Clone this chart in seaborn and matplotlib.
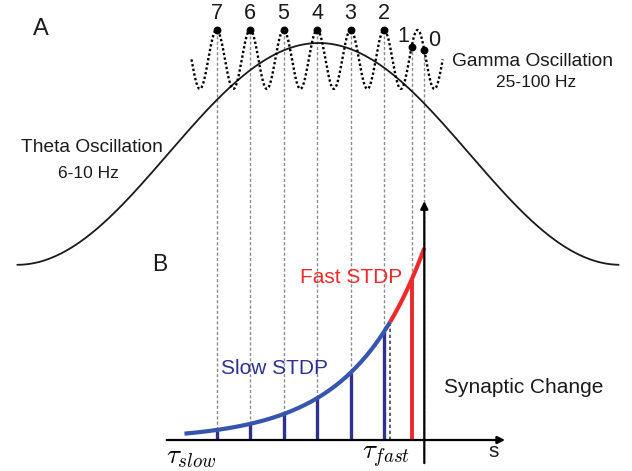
import numpy as np
import pandas as pd
import matplotlib
matplotlib.use("Agg")
import matplotlib.pyplot as plt
import seaborn as sns

# Spike order within one theta cycle, and spike times in gamma cycles relative to spike 0
spike_labels = ["7", "6", "5", "4", "3", "2", "1", "0"]
spike_times = [-6.2, -5.2, -4.2, -3.2, -2.2, -1.2, -0.38, 0.0]

# Theta oscillation (slow carrier)
theta_peak = -3.15
theta_half_period = 9.0
theta_level, theta_amp = 8.54, 3.31
theta_span = (-12.15, 5.8)

# Gamma oscillation (fast carrier)
gamma_peak = -6.2
gamma_level, gamma_amp = 11.36, 0.88
gamma_span = (-6.95, 0.55)

# Exponential STDP window
stdp_amp = 5.73
stdp_tau = 2.1
stdp_start = -7.16
fast_boundary = -1.02

BLUE_CURVE = "#3656ad"
BLUE_BAR = "#2e3192"
RED = "#ec2a2c"
GRAY = "#8a8a8a"

sns.set_theme(style="white")
plt.rcParams["font.family"] = ["Liberation Sans", "DejaVu Sans"]
plt.rcParams["mathtext.fontset"] = "cm"


def stdp(t):
    return stdp_amp * np.exp(np.asarray(t) / stdp_tau)


def gamma(t):
    return gamma_level + gamma_amp * np.cos(2 * np.pi * (np.asarray(t) - gamma_peak))


fig = plt.figure(figsize=(6.32, 4.71), dpi=100)
ax = fig.add_axes([0, 0, 1, 1])
ax.set_xlim(-12.666, 6.2)
ax.set_ylim(-0.925, 13.134)
ax.axis("off")

# Theta wave
t_theta = np.linspace(*theta_span, 600)
theta_df = pd.DataFrame({
    "t": t_theta,
    "v": theta_level + theta_amp * np.cos(np.pi * (t_theta - theta_peak) / theta_half_period),
})
sns.lineplot(data=theta_df, x="t", y="v", ax=ax, color="#1a1a1a", lw=1.3,
             sort=False, estimator=None, zorder=3)

# Gamma wave (dotted)
t_gamma = np.linspace(*gamma_span, 800)
gamma_df = pd.DataFrame({"t": t_gamma, "v": gamma(t_gamma)})
sns.lineplot(data=gamma_df, x="t", y="v", ax=ax, color="black", lw=1.7,
             sort=False, estimator=None, zorder=3)
ax.lines[-1].set_linestyle((0, (1.0, 1.0)))

# Spikes on the gamma wave
spike_y = gamma(spike_times)
ax.scatter(spike_times, spike_y, s=32, color="black", zorder=5, linewidths=0)

# Projection lines from each spike down to the time axis
ax.vlines(spike_times, 0, spike_y, color=GRAY, lw=1.0,
          linestyles=[(0, (2.2, 1.6))], zorder=1)

# Spike order labels
for lab, t, y in zip(spike_labels, spike_times, spike_y):
    if lab == "1":
        off = (-8, 10)
    elif lab == "0":
        off = (10, 10)
    else:
        off = (0, 16)
    ax.annotate(lab, (t, y), xytext=off, textcoords="offset pixels",
                ha="center", va="center", fontsize=15.5, color="#1a1a1a")

# STDP curve: slow part in blue, fast part in red
t_slow = np.linspace(stdp_start, fast_boundary, 300)
t_fast = np.linspace(fast_boundary, 0.0, 100)
sns.lineplot(x=t_slow, y=stdp(t_slow), ax=ax, color=BLUE_CURVE, lw=3.0,
             sort=False, estimator=None, zorder=4)
sns.lineplot(x=t_fast, y=stdp(t_fast), ax=ax, color=RED, lw=3.0,
             sort=False, estimator=None, zorder=4)
for ln in ax.lines[-2:]:
    ln.set_solid_capstyle("butt")

# Weight change bars at each spike time
slow_t = spike_times[:6]
ax.vlines(slow_t, 0, stdp(slow_t), color=BLUE_BAR, lw=2.4, zorder=3)
ax.vlines(spike_times[6], 0, stdp(spike_times[6]), color=RED, lw=2.8, zorder=3)

# Fast/slow split marker
ax.vlines(fast_boundary, 0, stdp(fast_boundary), color="#444444", lw=1.2,
          linestyles=[(0, (2.0, 1.6))], zorder=2)

# Axes of panel B
arrow_kw = dict(arrowstyle="-|>", lw=1.6, color="black", mutation_scale=11,
                shrinkA=0, shrinkB=0)
ax.annotate("", xy=(2.41, 0), xytext=(-7.69, 0), arrowprops=arrow_kw, zorder=6)
ax.annotate("", xy=(0, 7.13), xytext=(0, -0.69), arrowprops=arrow_kw, zorder=6)

# Labels
txt = dict(color="#1a1a1a", ha="center", va="center")
ax.text(-11.457, 12.254, "A", fontsize=17, **txt)
ax.text(-7.889, 5.224, "B", fontsize=16.5, **txt)
ax.text(-9.93, 8.73, "Theta Oscillation", fontsize=13.8, **txt)
ax.text(-10.03, 7.97, "6-10 Hz", fontsize=12.5, **txt)
ax.text(3.215, 11.30, "Gamma Oscillation", fontsize=13.8, **txt)
ax.text(3.334, 10.657, "25-100 Hz", fontsize=12.5, **txt)
ax.text(2.976, 1.58, "Synaptic Change", fontsize=15, **txt)
ax.text(2.078, -0.33, "s", fontsize=15, **txt)
ax.text(-4.472, 2.149, "Slow STDP", fontsize=15, color=BLUE_BAR, ha="center", va="center")
ax.text(-2.194, 4.836, "Fast STDP", fontsize=15, color=RED, ha="center", va="center")
ax.text(-7.72, -0.12, r"$\tau_{slow}$", fontsize=19.5, color="black", ha="left", va="top")
ax.text(-1.86, -0.12, r"$\tau_{fast}$", fontsize=19.5, color="black", ha="left", va="top")

fig.savefig("out.png", dpi=100)
